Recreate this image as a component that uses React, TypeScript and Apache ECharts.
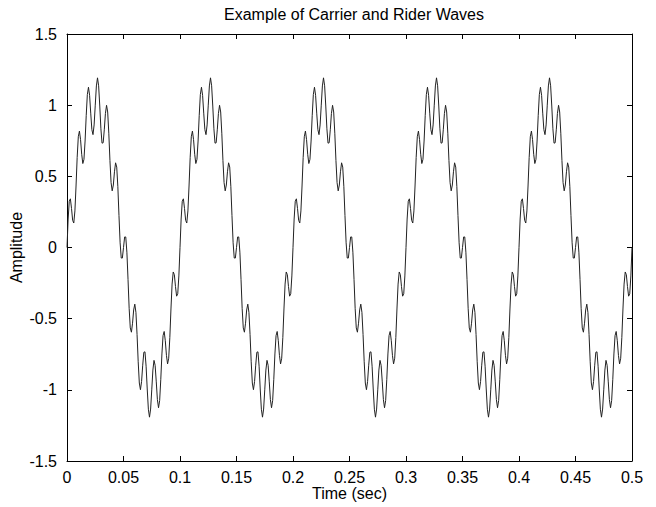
import React, { useEffect, useRef } from "react";
import * as echarts from "echarts";

const chartTitle = "Example of Carrier and Rider Waves";
const xAxisName = "Time (sec)";
const yAxisName = "Amplitude";
const sampleStep = 0.001; // seconds between samples

// Amplitude samples (one per millisecond, 0 .. 0.5 s)
const amplitude: number[] = [
  0, 0.2, 0.325, 0.342, 0.274, 0.191, 0.172, 0.257, 0.432, 0.632,
  0.778, 0.818, 0.758, 0.655, 0.59, 0.619, 0.748, 0.926, 1.074, 1.126,
  1.069, 0.944, 0.828, 0.793, 0.861, 1, 1.135, 1.192, 1.136, 0.994,
  0.834, 0.733, 0.736, 0.827, 0.941, 0.999, 0.952, 0.803, 0.611, 0.456,
  0.398, 0.439, 0.532, 0.595, 0.565, 0.427, 0.224, 0.033, -0.074, -0.074,
  0, 0.074, 0.074, -0.033, -0.224, -0.427, -0.565, -0.595, -0.532, -0.439,
  -0.398, -0.456, -0.611, -0.803, -0.952, -0.999, -0.941, -0.827, -0.736, -0.733,
  -0.834, -0.994, -1.136, -1.192, -1.135, -1, -0.861, -0.793, -0.828, -0.944,
  -1.069, -1.126, -1.074, -0.926, -0.748, -0.619, -0.59, -0.655, -0.758, -0.818,
  -0.778, -0.632, -0.432, -0.257, -0.172, -0.191, -0.274, -0.342, -0.325, -0.2,
  0, 0.2, 0.325, 0.342, 0.274, 0.191, 0.172, 0.257, 0.432, 0.632,
  0.778, 0.818, 0.758, 0.655, 0.59, 0.619, 0.748, 0.926, 1.074, 1.126,
  1.069, 0.944, 0.828, 0.793, 0.861, 1, 1.135, 1.192, 1.136, 0.994,
  0.834, 0.733, 0.736, 0.827, 0.941, 0.999, 0.952, 0.803, 0.611, 0.456,
  0.398, 0.439, 0.532, 0.595, 0.565, 0.427, 0.224, 0.033, -0.074, -0.074,
  0, 0.074, 0.074, -0.033, -0.224, -0.427, -0.565, -0.595, -0.532, -0.439,
  -0.398, -0.456, -0.611, -0.803, -0.952, -0.999, -0.941, -0.827, -0.736, -0.733,
  -0.834, -0.994, -1.136, -1.192, -1.135, -1, -0.861, -0.793, -0.828, -0.944,
  -1.069, -1.126, -1.074, -0.926, -0.748, -0.619, -0.59, -0.655, -0.758, -0.818,
  -0.778, -0.632, -0.432, -0.257, -0.172, -0.191, -0.274, -0.342, -0.325, -0.2,
  0, 0.2, 0.325, 0.342, 0.274, 0.191, 0.172, 0.257, 0.432, 0.632,
  0.778, 0.818, 0.758, 0.655, 0.59, 0.619, 0.748, 0.926, 1.074, 1.126,
  1.069, 0.944, 0.828, 0.793, 0.861, 1, 1.135, 1.192, 1.136, 0.994,
  0.834, 0.733, 0.736, 0.827, 0.941, 0.999, 0.952, 0.803, 0.611, 0.456,
  0.398, 0.439, 0.532, 0.595, 0.565, 0.427, 0.224, 0.033, -0.074, -0.074,
  0, 0.074, 0.074, -0.033, -0.224, -0.427, -0.565, -0.595, -0.532, -0.439,
  -0.398, -0.456, -0.611, -0.803, -0.952, -0.999, -0.941, -0.827, -0.736, -0.733,
  -0.834, -0.994, -1.136, -1.192, -1.135, -1, -0.861, -0.793, -0.828, -0.944,
  -1.069, -1.126, -1.074, -0.926, -0.748, -0.619, -0.59, -0.655, -0.758, -0.818,
  -0.778, -0.632, -0.432, -0.257, -0.172, -0.191, -0.274, -0.342, -0.325, -0.2,
  0, 0.2, 0.325, 0.342, 0.274, 0.191, 0.172, 0.257, 0.432, 0.632,
  0.778, 0.818, 0.758, 0.655, 0.59, 0.619, 0.748, 0.926, 1.074, 1.126,
  1.069, 0.944, 0.828, 0.793, 0.861, 1, 1.135, 1.192, 1.136, 0.994,
  0.834, 0.733, 0.736, 0.827, 0.941, 0.999, 0.952, 0.803, 0.611, 0.456,
  0.398, 0.439, 0.532, 0.595, 0.565, 0.427, 0.224, 0.033, -0.074, -0.074,
  0, 0.074, 0.074, -0.033, -0.224, -0.427, -0.565, -0.595, -0.532, -0.439,
  -0.398, -0.456, -0.611, -0.803, -0.952, -0.999, -0.941, -0.827, -0.736, -0.733,
  -0.834, -0.994, -1.136, -1.192, -1.135, -1, -0.861, -0.793, -0.828, -0.944,
  -1.069, -1.126, -1.074, -0.926, -0.748, -0.619, -0.59, -0.655, -0.758, -0.818,
  -0.778, -0.632, -0.432, -0.257, -0.172, -0.191, -0.274, -0.342, -0.325, -0.2,
  0, 0.2, 0.325, 0.342, 0.274, 0.191, 0.172, 0.257, 0.432, 0.632,
  0.778, 0.818, 0.758, 0.655, 0.59, 0.619, 0.748, 0.926, 1.074, 1.126,
  1.069, 0.944, 0.828, 0.793, 0.861, 1, 1.135, 1.192, 1.136, 0.994,
  0.834, 0.733, 0.736, 0.827, 0.941, 0.999, 0.952, 0.803, 0.611, 0.456,
  0.398, 0.439, 0.532, 0.595, 0.565, 0.427, 0.224, 0.033, -0.074, -0.074,
  0, 0.074, 0.074, -0.033, -0.224, -0.427, -0.565, -0.595, -0.532, -0.439,
  -0.398, -0.456, -0.611, -0.803, -0.952, -0.999, -0.941, -0.827, -0.736, -0.733,
  -0.834, -0.994, -1.136, -1.192, -1.135, -1, -0.861, -0.793, -0.828, -0.944,
  -1.069, -1.126, -1.074, -0.926, -0.748, -0.619, -0.59, -0.655, -0.758, -0.818,
  -0.778, -0.632, -0.432, -0.257, -0.172, -0.191, -0.274, -0.342, -0.325, -0.2,
  0,
];

const xMin = 0;
const xMax = 0.5;
const xStep = 0.05;
const yMin = -1.5;
const yMax = 1.5;
const yStep = 0.5;

const FONT = "'Liberation Sans', Arial, Helvetica, sans-serif";

export default function App() {
  const ref = useRef<HTMLDivElement>(null);

  useEffect(() => {
    if (!ref.current) return;
    const chart = echarts.init(ref.current, undefined, { renderer: "svg" });

    const seriesData = amplitude.map((v, i) => [
      Number((i * sampleStep).toFixed(3)),
      v,
    ]);

    const axisLine = { show: true, onZero: false, lineStyle: { color: "#000", width: 1 } };
    const axisTick = { show: true, inside: true, length: 5, lineStyle: { color: "#000", width: 1 } };
    const label = { color: "#000", fontSize: 16, fontFamily: FONT };

    chart.setOption({
      animation: false,
      backgroundColor: "#fff",
      title: {
        text: chartTitle,
        left: 349,
        textAlign: "center",
        top: 1,
        textStyle: { color: "#000", fontSize: 16, fontWeight: "normal", fontFamily: FONT },
      },
      grid: {
        left: 67,
        right: 24,
        top: 34,
        bottom: 46,
        containLabel: false,
        outerBoundsMode: "none",
      },
      xAxis: [
        {
          type: "value",
          position: "bottom",
          min: xMin,
          max: xMax,
          interval: xStep,
          name: xAxisName,
          nameLocation: "middle",
          nameGap: 24,
          nameMoveOverlap: false,
          nameTextStyle: { color: "#000", fontSize: 16, fontFamily: FONT },
          axisLine,
          axisTick,
          axisLabel: { ...label, margin: 8 },
          splitLine: { show: false },
        },
        {
          type: "value",
          position: "top",
          min: xMin,
          max: xMax,
          interval: xStep,
          axisLine,
          axisTick,
          axisLabel: { show: false },
          splitLine: { show: false },
        },
      ],
      yAxis: [
        {
          type: "value",
          position: "left",
          min: yMin,
          max: yMax,
          interval: yStep,
          name: yAxisName,
          nameLocation: "middle",
          nameGap: 43,
          nameRotate: 90,
          nameMoveOverlap: false,
          nameTextStyle: { color: "#000", fontSize: 16, fontFamily: FONT },
          axisLine,
          axisTick,
          axisLabel: { ...label, margin: 10 },
          splitLine: { show: false },
        },
        {
          type: "value",
          position: "right",
          min: yMin,
          max: yMax,
          interval: yStep,
          axisLine,
          axisTick,
          axisLabel: { show: false },
          splitLine: { show: false },
        },
      ],
      series: [
        {
          type: "line",
          xAxisIndex: 0,
          yAxisIndex: 0,
          data: seriesData,
          showSymbol: false,
          symbol: "none",
          lineStyle: { color: "#222", width: 1 },
          silent: true,
        },
      ],
    });

    return () => {
      chart.dispose();
    };
  }, []);

  return (
    <div
      ref={ref}
      style={{ position: "fixed", left: 0, top: 0, width: 656, height: 507, background: "#fff" }}
    />
  );
}
